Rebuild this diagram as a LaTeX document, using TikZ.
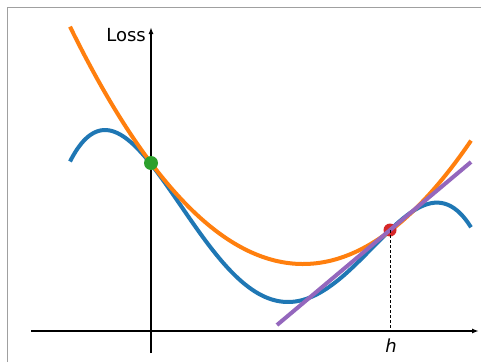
\documentclass[tikz,border=0pt]{standalone}
\usepackage{fontspec}
\setmainfont{DejaVu Sans}
\usetikzlibrary{arrows.meta}
\definecolor{tabblue}{HTML}{1F77B4}
\definecolor{taborange}{HTML}{FF7F0E}
\definecolor{tabgreen}{HTML}{2CA02C}
\definecolor{tabred}{HTML}{D62728}
\definecolor{tabpurple}{HTML}{9467BD}
\definecolor{framegray}{HTML}{A0A0A0}
\tikzset{
  axis/.style={line width=1.8pt, black, -{Latex[length=7pt,width=5pt]}},
  curve/.style={line width=4pt},
  dot/.style={circle, inner sep=0pt, minimum size=#1},
  lbl/.style={font=\fontsize{18}{20}\selectfont, inner sep=0pt},
}
\begin{document}
\begin{tikzpicture}[x=1pt,y=-1pt]
\useasboundingbox (0,0) rectangle (481,362);
\fill[white] (0,0) rectangle (481,362);
\draw[framegray, line width=1pt] (7,362) -- (7,7) -- (481,7);
% axes
\coordinate (xs) at (31,331);
\coordinate (xe) at (479,331);
\coordinate (ys) at (151,353);
\coordinate (ye) at (151,27);
\draw[axis] (xs) -- (xe);
\draw[axis] (ys) -- (ye);
% curves
\draw[curve, tabblue, line cap=butt] plot[domain=70:471, samples=120, smooth]
  (\x, {302 + 17.505*((\x-288)/100)^4 + 7.9356*((\x-288)/100)^3 - 95.46*((\x-288)/100)^2});
\draw[curve, taborange] plot[domain=70:471, samples=120, smooth]
  (\x, {264 - 43.72*((\x-303)/100)^2});
% points
\node[dot=14pt, fill=tabgreen] (g) at (151,163) {};
\node[dot=13pt, fill=tabred] (r) at (390,230) {};
% tangent line
\coordinate (ps) at (277,325);
\coordinate (pe) at (471,162);
\draw[curve, tabpurple] (ps) -- (pe);
\coordinate (hb) at (390,331);
\draw[line width=0.8pt, dash pattern=on 3pt off 2pt] (r.center) -- (hb);
% labels
\node[lbl, anchor=east] (loss) at (146,35) {Loss};
\node[lbl] (h) at (391,346) {\textit{h}};
\end{tikzpicture}
\end{document}
